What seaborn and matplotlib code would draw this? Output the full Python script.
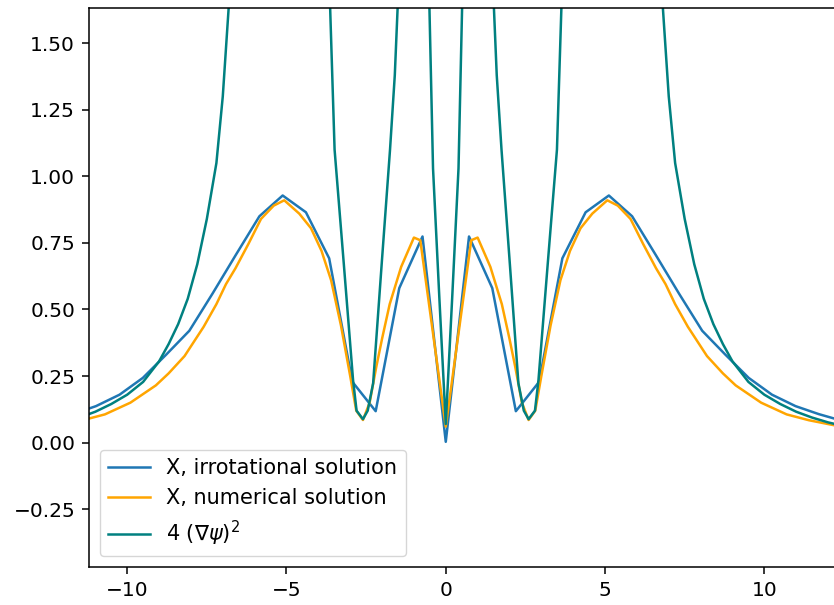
import matplotlib
matplotlib.use("Agg")
import matplotlib.pyplot as plt
import seaborn as sns
import pandas as pd

# X, irrotational solution
x_irrot = [-12.44, -11.71, -10.98, -10.24, -9.51, -8.78, -8.05, -7.32, -6.59, -5.85,
           -5.12, -4.39, -3.66, -2.93, -2.20, -1.46, -0.73, 0.00, 0.73, 1.46,
           2.20, 2.93, 3.66, 4.39, 5.12, 5.85, 6.59, 7.32, 8.05, 8.78,
           9.51, 10.24, 10.98, 11.71, 12.44]
y_irrot = [0.082, 0.107, 0.137, 0.180, 0.243, 0.330, 0.420, 0.560, 0.705, 0.850,
           0.928, 0.865, 0.692, 0.228, 0.118, 0.580, 0.774, 0.003, 0.774, 0.580,
           0.118, 0.228, 0.692, 0.865, 0.928, 0.850, 0.705, 0.560, 0.420, 0.330,
           0.243, 0.180, 0.137, 0.107, 0.082]

# X, numerical solution
x_num = [-12.5, -12.2, -11.4, -10.7, -9.9, -9.1, -8.7, -8.2, -7.6, -7.2,
         -6.9, -6.6, -6.2, -5.8, -5.4, -5.07, -4.6, -4.23, -3.9, -3.6,
         -3.29, -3.0, -2.81, -2.6, -2.39, -2.18, -2.0, -1.76, -1.4, -1.0,
         -0.8, 0.0, 0.8, 1.0, 1.4, 1.76, 2.0, 2.18, 2.39, 2.6,
         2.81, 3.0, 3.29, 3.6, 3.9, 4.23, 4.6, 5.07, 5.4, 5.8,
         6.2, 6.6, 6.9, 7.2, 7.6, 8.2, 8.7, 9.1, 9.9, 10.7,
         11.4, 12.2, 12.5]
y_num = [0.058, 0.065, 0.084, 0.106, 0.150, 0.215, 0.260, 0.325, 0.435, 0.520,
         0.595, 0.655, 0.745, 0.840, 0.890, 0.910, 0.860, 0.805, 0.720, 0.610,
         0.440, 0.250, 0.120, 0.085, 0.150, 0.285, 0.390, 0.520, 0.660, 0.770,
         0.760, 0.060, 0.760, 0.770, 0.660, 0.520, 0.390, 0.285, 0.150, 0.085,
         0.120, 0.250, 0.440, 0.610, 0.720, 0.805, 0.860, 0.910, 0.890, 0.840,
         0.745, 0.655, 0.595, 0.520, 0.435, 0.325, 0.260, 0.215, 0.150, 0.106,
         0.084, 0.065, 0.058]

# 4 (grad psi)^2
x_grad = [-12.5, -12.0, -11.5, -11.0, -10.5, -10.0, -9.5, -9.0, -8.7, -8.4,
          -8.1, -7.8, -7.5, -7.2, -7.0, -6.5, -6.0, -5.0, -4.0, -3.7,
          -3.49, -3.2, -2.91, -2.8, -2.6, -2.45, -2.28, -2.0, -1.75, -1.6,
          -1.4, -1.2, -1.0, -0.8, -0.6, -0.4, -0.2, 0.0, 0.2, 0.4,
          0.6, 0.8, 1.0, 1.2, 1.4, 1.6, 1.75, 2.0, 2.28, 2.45,
          2.6, 2.8, 2.91, 3.2, 3.49, 3.7, 4.0, 5.0, 6.0, 6.5,
          7.0, 7.2, 7.5, 7.8, 8.1, 8.4, 8.7, 9.0, 9.5, 10.0,
          10.5, 11.0, 11.5, 12.0, 12.5]
y_grad = [0.062, 0.076, 0.094, 0.116, 0.145, 0.180, 0.228, 0.305, 0.370, 0.445,
          0.540, 0.670, 0.840, 1.050, 1.300, 2.200, 4.000, 6.000, 3.500, 1.900,
          1.100, 0.670, 0.235, 0.120, 0.088, 0.120, 0.223, 0.690, 1.100, 1.380,
          1.950, 3.600, 4.500, 3.500, 2.100, 1.030, 0.540, 0.070, 0.540, 1.030,
          2.100, 3.500, 4.500, 3.600, 1.950, 1.380, 1.100, 0.690, 0.223, 0.120,
          0.088, 0.120, 0.235, 0.670, 1.100, 1.900, 3.500, 6.000, 4.000, 2.200,
          1.300, 1.050, 0.840, 0.670, 0.540, 0.445, 0.370, 0.305, 0.228, 0.180,
          0.145, 0.116, 0.094, 0.076, 0.062]

labels = ["X, irrotational solution", "X, numerical solution", r"4 $(\nabla\psi)^2$"]
colors = ["#1f77b4", "orange", "teal"]

plt.rcParams.update({
    "font.size": 14.5,
    "axes.linewidth": 1.1,
    "xtick.major.size": 5.2,
    "ytick.major.size": 5.2,
    "xtick.major.width": 1.1,
    "ytick.major.width": 1.1,
    "xtick.major.pad": 5.0,
    "ytick.major.pad": 5.0,
})

fig = plt.figure(figsize=(8.34, 6.05), dpi=100)
ax = fig.add_axes([89.3 / 834, 38.3 / 605, (836 - 89.3) / 834, (596.7 - 38.3) / 605])

for xs, ys, lab, col in zip([x_irrot, x_num, x_grad], [y_irrot, y_num, y_grad], labels, colors):
    df = pd.DataFrame({"x": xs, "y": ys})
    sns.lineplot(data=df, x="x", y="y", ax=ax, color=col, label=lab,
                 sort=False, estimator=None, linewidth=1.8)

ax.set_xlim(-11.19, 12.25)
ax.set_ylim(-0.466, 1.631)
ax.set_xticks([-10, -5, 0, 5, 10])
ax.set_yticks([-0.25, 0.0, 0.25, 0.5, 0.75, 1.0, 1.25, 1.5])
ax.set_xlabel("")
ax.set_ylabel("")
ax.legend(loc="lower left", fontsize=15)

fig.savefig("out.png", dpi=100)
